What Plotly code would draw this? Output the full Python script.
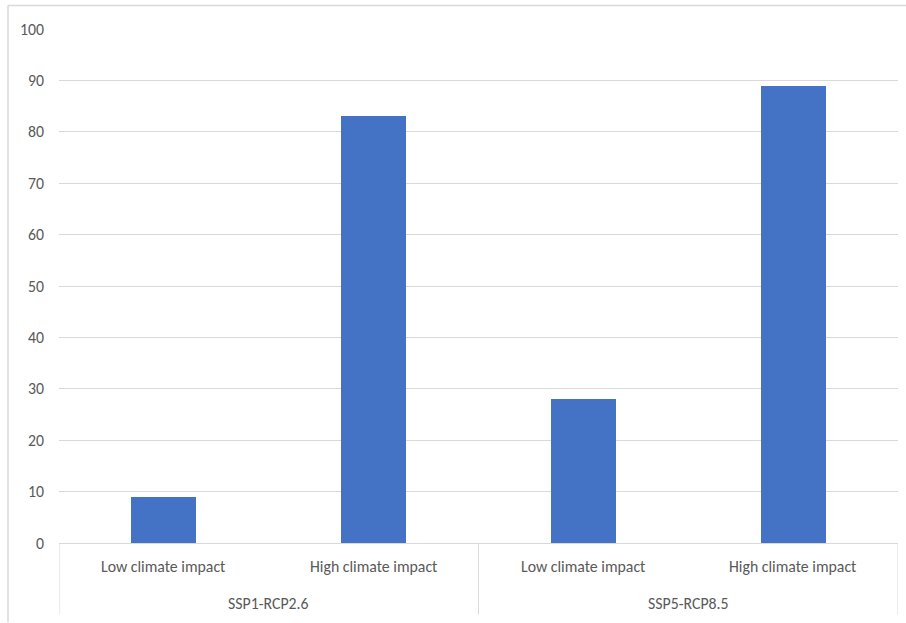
import plotly.graph_objects as go

groups = ["SSP1-RCP2.6", "SSP5-RCP8.5"]
categories = ["Low climate impact", "High climate impact"]
values = [9, 83, 28, 89]
y_ticks = [0, 10, 20, 30, 40, 50, 60, 70, 80, 90, 100]

FONT = "Carlito, 'Liberation Sans Narrow', Lato, sans-serif"
GRAY = "#595959"
LINE = "#d9d9d9"

W, H = 906, 623
L, R, T, B = 59, 8, 28.5, 79.5
plot_h = H - T - B

xs = list(range(len(values)))
fig = go.Figure(go.Bar(x=xs, y=values, marker_color="#4472C4", width=0.31,
                       marker_line_width=0))

ann = []
n_cat = len(categories)
for gi, g in enumerate(groups):
    for ci, c in enumerate(categories):
        ann.append(dict(x=gi * n_cat + ci, y=-(567 - (T + plot_h)) / plot_h, xref="x", yref="paper",
                        text=c, showarrow=False, font=dict(family=FONT, size=15.8, color=GRAY),
                        xanchor="center", yanchor="middle"))
    ann.append(dict(x=gi * n_cat + (n_cat - 1) / 2, y=-(604 - (T + plot_h)) / plot_h,
                    xref="x", yref="paper", text=g, showarrow=False,
                    font=dict(family=FONT, size=15.8, color=GRAY),
                    xanchor="center", yanchor="middle"))

shapes = []
bottom_sep = -(615 - (T + plot_h)) / plot_h
for k in range(len(groups) + 1):
    shapes.append(dict(type="line", xref="x", yref="paper", x0=k * n_cat - 0.5, x1=k * n_cat - 0.5,
                       y0=0, y1=bottom_sep, line=dict(color=LINE, width=1)))
# chart outer border (left and top)
px = lambda p: (p - L) / (W - L - R)
py = lambda p: (T + plot_h - p) / plot_h
shapes.append(dict(type="line", xref="paper", yref="paper", x0=px(8), x1=px(8), y0=py(5), y1=py(623),
                   line=dict(color=LINE, width=1.5)))
shapes.append(dict(type="line", xref="paper", yref="paper", x0=px(8), x1=px(906), y0=py(5), y1=py(5),
                   line=dict(color=LINE, width=1.5)))

fig.update_layout(
    width=W, height=H,
    margin=dict(l=L, r=R, t=T, b=B),
    paper_bgcolor="white", plot_bgcolor="white",
    showlegend=False,
    bargap=0,
    xaxis=dict(range=[-0.5, len(values) - 0.5], showticklabels=False, showgrid=False,
               zeroline=False, showline=True, linecolor=LINE, linewidth=1, fixedrange=True),
    yaxis=dict(range=[0, 100], tickvals=y_ticks, showgrid=True, gridcolor=LINE, gridwidth=1,
               zeroline=False, showline=False, ticklabelstandoff=14,
               tickfont=dict(family=FONT, size=15.8, color=GRAY)),
    annotations=ann,
    shapes=shapes,
)

fig.write_html("out.html")
